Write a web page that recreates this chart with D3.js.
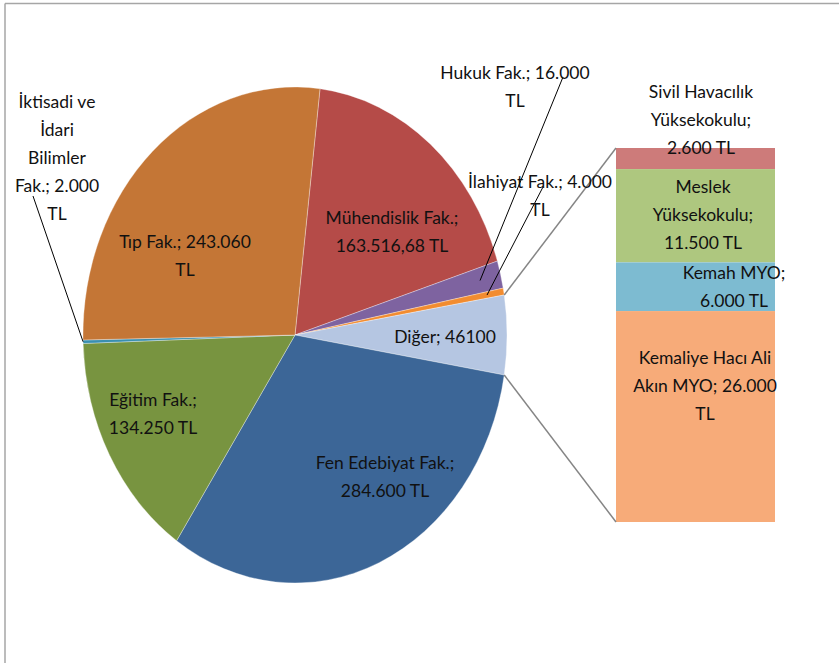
<!DOCTYPE html>
<html>
<head>
<meta charset="utf-8">
<script src="https://cdn.jsdelivr.net/npm/d3@7/dist/d3.min.js"></script>
<style>
  html, body { margin: 0; padding: 0; background: #fff; }
  svg { display: block; }
  text { font-family: Lato, "Open Sans", sans-serif; fill: #111; }
</style>
</head>
<body>
<svg id="chart" width="839" height="663"></svg>
<script>
// ---------- DATA ----------
const pieNames  = ["Mühendislik Fak.", "Hukuk Fak.", "İlahiyat Fak.", "Diğer", "Fen Edebiyat Fak.", "Eğitim Fak.", "İktisadi ve İdari Bilimler Fak.", "Tıp Fak."];
const pieValues = [163516.68, 16000, 4000, 46100, 284600, 134250, 2000, 243060];
const pieLabelLines = [
  ["Mühendislik Fak.;", "163.516,68 TL"],
  ["Hukuk Fak.; 16.000", "TL"],
  ["İlahiyat Fak.; 4.000", "TL"],
  ["Diğer; 46100"],
  ["Fen Edebiyat Fak.;", "284.600 TL"],
  ["Eğitim Fak.;", "134.250 TL"],
  ["İktisadi ve", "İdari", "Bilimler", "Fak.; 2.000", "TL"],
  ["Tıp Fak.; 243.060", "TL"]
];
const barNames  = ["Sivil Havacılık Yüksekokulu", "Meslek Yüksekokulu", "Kemah MYO", "Kemaliye Hacı Ali Akın MYO"];
const barValues = [2600, 11500, 6000, 26000];
const barLabelLines = [
  ["Sivil Havacılık", "Yüksekokulu;", "2.600 TL"],
  ["Meslek", "Yüksekokulu;", "11.500 TL"],
  ["Kemah MYO;", "6.000 TL"],
  ["Kemaliye Hacı Ali", "Akın MYO; 26.000", "TL"]
];

// ---------- STYLE / LAYOUT ----------
const pieColors = ["#B54B48", "#7E63A0", "#F28C30", "#B5C6E2", "#3C6697", "#789440", "#3A8FB0", "#C47636"];
const barColors = ["#CD7B7A", "#AEC77F", "#7DBBD1", "#F7AB79"];
const cx = 295, cy = 335, rx = 212, ry = 248, k = ry / rx;
const textK = 1.0;
const lineH = 28;
const fontSize = 17.5;
// label anchors (center x, first-line center y)
const pieLabelPos = [[392, 218], [515, 73], [540, 182], [445, 337], [385, 463], [153, 400], [57, 102], [185, 242]];
const barLabelPos = [[701, 92], [703, 187], [734, 273], [705, 358]];
const leaderStart = {1: [563, 77], 2: [543, 187], 6: [33, 196]};
const leaderR = {1: 0.9, 2: 0.92, 6: 1.0};

const svg = d3.select("#chart");

// frame
svg.append("line").attr("x1", 5).attr("y1", 3.5).attr("x2", 839).attr("y2", 3.5)
  .attr("stroke", "#a6a6a6").attr("stroke-width", 1.5);
svg.append("line").attr("x1", 5).attr("y1", 3.5).attr("x2", 5).attr("y2", 663)
  .attr("stroke", "#a6a6a6").attr("stroke-width", 1.5);

// ---------- PIE ----------
const total = d3.sum(pieValues);
const digerIdx = pieNames.indexOf("Diğer");
const before = d3.sum(pieValues.slice(0, digerIdx)) + pieValues[digerIdx] / 2;
const start = Math.PI / 2 - before / total * 2 * Math.PI;
const pie = d3.pie().sort(null).startAngle(start).endAngle(start + 2 * Math.PI);
const arcs = pie(pieValues);
const arc = d3.arc().innerRadius(0).outerRadius(rx);

const pg = svg.append("g").attr("transform", `translate(${cx},${cy}) scale(1,${k})`);
pg.selectAll("path").data(arcs).join("path")
  .attr("d", arc)
  .attr("fill", (d, i) => pieColors[i])
  .attr("stroke", "#ffffff").attr("stroke-opacity", 0.5).attr("stroke-width", 0.6);

function pt(angle, r) {
  return [cx + r * Math.sin(angle), cy - r * Math.cos(angle) * k];
}

// ---------- BAR (breakdown of Diğer) ----------
const barX0 = 616, barX1 = 775;
const y = d3.scaleLinear().domain([0, d3.sum(barValues)]).range([148, 522]);
const cum = d3.cumsum(barValues);
const bars = barValues.map((v, i) => ({v, y0: cum[i] - v, y1: cum[i]}));
svg.append("g").selectAll("rect").data(bars).join("rect")
  .attr("x", barX0).attr("width", barX1 - barX0)
  .attr("y", d => y(d.y0)).attr("height", d => y(d.y1) - y(d.y0))
  .attr("fill", (d, i) => barColors[i]);

// connector lines
const dA = arcs[digerIdx];
const pTop = pt(dA.startAngle, rx), pBot = pt(dA.endAngle, rx);
svg.append("line").attr("x1", pTop[0]).attr("y1", pTop[1]).attr("x2", barX0).attr("y2", y(0))
  .attr("stroke", "#858585").attr("stroke-width", 1.5);
svg.append("line").attr("x1", pBot[0]).attr("y1", pBot[1]).attr("x2", barX0).attr("y2", y(d3.sum(barValues)))
  .attr("stroke", "#858585").attr("stroke-width", 1.5);

// leader lines
Object.keys(leaderStart).forEach(key => {
  const i = +key, a = arcs[i];
  const mid = (a.startAngle + a.endAngle) / 2;
  const e = pt(mid, rx * leaderR[i]);
  const s = leaderStart[i];
  svg.append("line").attr("x1", s[0]).attr("y1", s[1]).attr("x2", e[0]).attr("y2", e[1])
    .attr("stroke", "#000").attr("stroke-width", 1);
});

// ---------- LABELS ----------
function drawLabel(lines, pos) {
  lines.forEach((t, j) => {
    svg.append("text")
      .attr("transform", `translate(${pos[0]},${pos[1] + j * lineH}) scale(1,${textK})`)
      .attr("text-anchor", "middle")
      .attr("dy", "0.35em")
      .attr("font-size", fontSize)
      .text(t);
  });
}
pieLabelLines.forEach((lines, i) => drawLabel(lines, pieLabelPos[i]));
barLabelLines.forEach((lines, i) => drawLabel(lines, barLabelPos[i]));
</script>
</body>
</html>
